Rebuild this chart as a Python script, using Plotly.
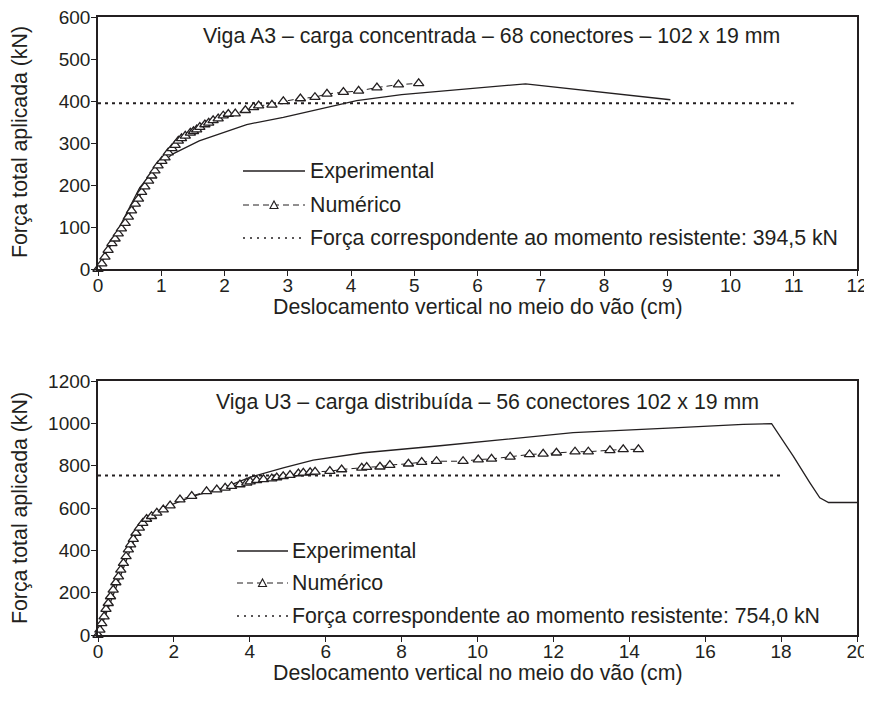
import plotly.graph_objects as go

# ---------------- data ----------------
# Top chart: Viga A3
top_exp_x = [0, 0.66, 0.88, 1.17, 1.60, 2.35, 2.93, 4.09, 4.8, 5.6, 6.76, 9.05]
top_exp_y = [0, 194, 234, 273, 305, 344, 361, 401, 415, 426, 441, 403]

top_num_x = [0, 0.06, 0.11, 0.16, 0.22, 0.27, 0.32, 0.37, 0.43, 0.48, 0.53, 0.59, 0.64,
             0.69, 0.74, 0.80, 0.85, 0.90, 0.95, 1.01, 1.06, 1.11, 1.17, 1.22, 1.27, 1.32,
             1.38, 1.46, 1.51, 1.56, 1.61, 1.69, 1.75, 1.82, 1.90, 1.98, 2.06, 2.17, 2.33,
             2.46, 2.54, 2.75, 2.93, 3.20, 3.43, 3.62, 3.88, 4.12, 4.41, 4.75, 5.07]
top_num_y = [0, 13, 29, 45, 61, 72, 84, 96, 109, 124, 139, 155, 167, 183, 196, 210, 222,
             234, 246, 257, 265, 277, 287, 295, 305, 311, 317, 324, 328, 332, 338, 344,
             348, 354, 358, 365, 369, 370, 378, 385, 389, 391, 399, 406, 409, 417, 421,
             424, 432, 439, 442]

top_ref_x = [0, 11]
top_ref_y = [394.5, 394.5]

# Bottom chart: Viga U3
bot_exp_x = [0, 1.02, 1.37, 1.72, 2.51, 3.30, 4.0, 4.88, 5.67, 7.0, 9.01, 12.52, 15.16,
             17.0, 17.75, 18.32, 18.76, 19.02, 19.25, 20]
bot_exp_y = [0, 482, 561, 600, 656, 695, 745, 790, 826, 861, 894, 956, 979, 995, 998,
             845, 719, 648, 626, 626]

bot_num_x = [0, 0.05, 0.10, 0.16, 0.21, 0.27, 0.33, 0.40, 0.47, 0.54, 0.60, 0.67, 0.74,
             0.80, 0.86, 0.93, 1.00, 1.09, 1.18, 1.28, 1.41, 1.55, 1.72, 1.90, 2.16, 2.47,
             2.86, 3.13, 3.35, 3.52, 3.74, 3.92, 4.01, 4.18, 4.36, 4.58, 4.71, 4.88, 5.06,
             5.28, 5.41, 5.59, 5.72, 6.11, 6.42, 6.95, 7.08, 7.43, 7.69, 8.18, 8.53, 8.92,
             9.62, 10.02, 10.37, 10.86, 11.37, 11.73, 12.08, 12.57, 12.92, 13.49, 13.84,
             14.24]
bot_num_y = [0, 24, 55, 87, 122, 150, 182, 213, 248, 276, 308, 340, 371, 403, 427, 453,
             482, 506, 529, 548, 561, 577, 592, 611, 640, 656, 679, 687, 695, 703, 711,
             719, 725, 731, 735, 739, 744, 750, 755, 763, 766, 769, 771, 774, 782, 790,
             793, 795, 803, 809, 817, 821, 821, 829, 832, 842, 853, 856, 861, 866, 866,
             872, 877, 877]

bot_ref_x = [0, 18]
bot_ref_y = [754, 754]

titles = ["Viga A3 – carga concentrada – 68 conectores – 102 x 19 mm",
          "Viga U3 – carga distribuída – 56 conectores 102 x 19 mm"]
legend_labels = ["Experimental", "Numérico"]
ref_labels = ["Força correspondente ao momento resistente: 394,5 kN",
              "Força correspondente ao momento resistente: 754,0 kN"]
x_title = "Deslocamento vertical no meio do vão (cm)"
y_title = "Força total aplicada (kN)"

# ---------------- style ----------------
INK = "#231f20"
FONT = "Arial, Liberation Sans, sans-serif"
# the page body has an 8px margin, so the figure is 8px smaller and offset
W, H = 864, 702
ML, MR, MT, MB = 90, 15, 9, 75
PW, PH = W - ML - MR, H - MT - MB

# helpers map page pixel positions (reference picture) to paper coordinates
PLOT_LEFT, PLOT_BOTTOM = 98, 635


def px_x(px):
    return (px - PLOT_LEFT) / PW


def px_y(py):
    return (PLOT_BOTTOM - py) / PH


fig = go.Figure()

panels = [
    dict(exp=(top_exp_x, top_exp_y), num=(top_num_x, top_num_y), ref=(top_ref_x, top_ref_y),
         xa="x", ya="y"),
    dict(exp=(bot_exp_x, bot_exp_y), num=(bot_num_x, bot_num_y), ref=(bot_ref_x, bot_ref_y),
         xa="x2", ya="y2"),
]

for p in panels:
    fig.add_trace(go.Scatter(x=p["ref"][0], y=p["ref"][1], mode="lines",
                             line=dict(color=INK, width=2, dash="3px,4px"),
                             xaxis=p["xa"], yaxis=p["ya"], showlegend=False, hoverinfo="skip"))
    fig.add_trace(go.Scatter(x=p["exp"][0], y=p["exp"][1], mode="lines",
                             line=dict(color=INK, width=1.3),
                             xaxis=p["xa"], yaxis=p["ya"], showlegend=False, hoverinfo="skip"))
    fig.add_trace(go.Scatter(x=p["num"][0], y=p["num"][1], mode="lines+markers",
                             line=dict(color=INK, width=1, dash="6px,4px"),
                             marker=dict(symbol="triangle-up", size=9, color="white",
                                         line=dict(color=INK, width=1.3)),
                             cliponaxis=False,
                             xaxis=p["xa"], yaxis=p["ya"], showlegend=False, hoverinfo="skip"))

top_dom = [px_y(269), 1.0]
bot_dom = [0.0, px_y(381)]

axis_common = dict(showline=True, linecolor=INK, linewidth=1.6, mirror=True,
                   ticks="outside", ticklen=5, tickwidth=1.4, tickcolor=INK,
                   showgrid=False, zeroline=False, automargin=False,
                   ticklabeloverflow="allow",
                   tickfont=dict(family=FONT, size=19, color=INK))
xax = dict(ticklabelstandoff=-7, **axis_common)
yax = dict(ticklabelstandoff=-3, **axis_common)

fig.update_layout(
    width=W, height=H,
    margin=dict(l=ML, r=MR, t=MT, b=MB),
    paper_bgcolor="white", plot_bgcolor="white",
    showlegend=False,
    xaxis=dict(domain=[0, 1], anchor="y", range=[0, 12], dtick=1, **xax),
    yaxis=dict(domain=top_dom, anchor="x", range=[0, 600], dtick=100, **yax),
    xaxis2=dict(domain=[0, 1], anchor="y2", range=[0, 20], dtick=2, **xax),
    yaxis2=dict(domain=bot_dom, anchor="x2", range=[0, 1200], dtick=200, **yax),
)

ann = []
shapes = []
TF = dict(family=FONT, size=21.3, color=INK)

# titles inside plots
ann.append(dict(text=titles[0], x=px_x(491), y=px_y(36), xref="paper", yref="paper",
                showarrow=False, font=TF, xanchor="center", yanchor="middle"))
ann.append(dict(text=titles[1], x=px_x(487), y=px_y(402), xref="paper", yref="paper",
                showarrow=False, font=TF, xanchor="center", yanchor="middle"))

# axis titles
for cy in (307, 673):
    ann.append(dict(text=x_title, x=px_x(477.5), y=px_y(cy), xref="paper", yref="paper",
                    showarrow=False, font=TF, xanchor="center", yanchor="middle"))
for cy in (142, 508):
    ann.append(dict(text=y_title, x=px_x(20), y=px_y(cy), xref="paper", yref="paper",
                    showarrow=False, font=TF, xanchor="center", yanchor="middle",
                    textangle=-90))

# manual legends
legends = [
    dict(x0=243, x1=305, tx=311, rows=(171, 205, 238), ref=ref_labels[0]),
    dict(x0=237, x1=288, tx=293, rows=(551, 583, 616), ref=ref_labels[1]),
]
for lg in legends:
    r0, r1, r2 = lg["rows"]
    shapes.append(dict(type="line", xref="paper", yref="paper",
                       x0=px_x(lg["x0"]), x1=px_x(lg["x1"]), y0=px_y(r0), y1=px_y(r0),
                       line=dict(color=INK, width=1.3)))
    shapes.append(dict(type="line", xref="paper", yref="paper",
                       x0=px_x(lg["x0"]), x1=px_x(lg["x1"]), y0=px_y(r1), y1=px_y(r1),
                       line=dict(color=INK, width=1, dash="6px,4px")))
    cx = (lg["x0"] + lg["x1"]) / 2
    shapes.append(dict(type="path", xref="paper", yref="paper",
                       xsizemode="pixel", ysizemode="pixel",
                       xanchor=px_x(cx), yanchor=px_y(r1),
                       path="M-4,-3.5 L4,-3.5 L0,4 Z",
                       fillcolor="white", line=dict(color=INK, width=1.1)))
    shapes.append(dict(type="line", xref="paper", yref="paper",
                       x0=px_x(lg["x0"]), x1=px_x(lg["x1"]), y0=px_y(r2), y1=px_y(r2),
                       line=dict(color=INK, width=1.6, dash="2px,5px")))
    for txt, ry in ((legend_labels[0], r0), (legend_labels[1], r1), (lg["ref"], r2)):
        ann.append(dict(text=txt, x=px_x(lg["tx"] - 3), y=px_y(ry), xref="paper",
                        yref="paper", showarrow=False, font=TF, xanchor="left",
                        yanchor="middle"))

fig.update_layout(annotations=ann, shapes=shapes)
fig.write_html("out.html")
